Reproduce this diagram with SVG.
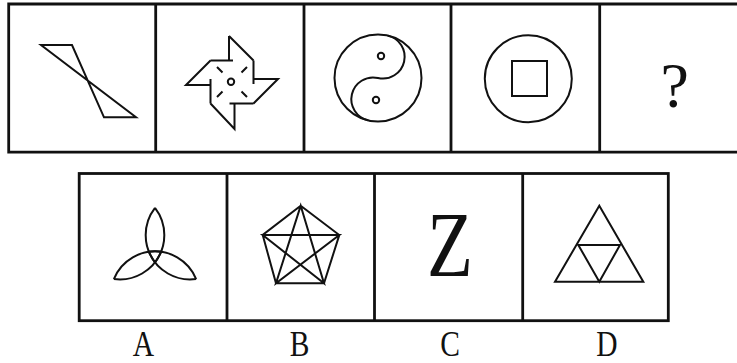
<svg xmlns="http://www.w3.org/2000/svg" width="737" height="363" viewBox="0 0 737 363">
<style>
.frame{fill:none;stroke:#111;stroke-width:2.8}
.fig{fill:none;stroke:#111;stroke-width:2;stroke-linejoin:miter;stroke-linecap:butt}
.lbl{font-family:"Liberation Serif","Times New Roman",serif;fill:#111;text-anchor:middle}
</style>
<rect width="737" height="363" fill="#fff"/>
<g id="top-row">
<path class="frame" d="M748,4 H8.7 V152.2 H748 M155.7,4 V152.2 M304,4 V152.2 M451,4 V152.2 M599.7,4 V152.2"/>
</g>
<g id="bottom-row">
<rect class="frame" x="79.2" y="173.5" width="589.1" height="147.2"/>
<path class="frame" d="M227,173.5 V320.7 M374.5,173.5 V320.7 M522.7,173.5 V320.7"/>
</g>
<g id="fig1">
<path class="fig" d="M41,45 H72 L104,117.3 H136 Z"/>
</g>
<g id="fig2">
<path class="fig" d="M229,36 V60.5 M229,36 L253.5,60.5 M210.5,60.5 H233 M253.5,79 H278 L253.5,103.5 M253.5,60.5 V84 M234.5,103.5 V129 L210.5,103.5 M253.5,103.5 H229.5 M210.5,85 H186 L210.5,60.5 M210.5,103.5 V79"/>
<path class="fig" d="M217,67 L222.5,72.5 M247,67 L241.5,72.5 M247,97 L241.5,91.5 M217,97 L222.5,91.5"/>
<circle class="fig" cx="231" cy="81.7" r="3.2" stroke-width="1.6"/>
</g>
<g id="fig3">
<circle class="fig" cx="378" cy="78" r="43.5"/>
<path class="fig" transform="translate(378,78) rotate(13)" d="M0,-43.5 A21.75,21.75 0 0 1 0,0 A21.75,21.75 0 0 0 0,43.5"/>
<circle class="fig" cx="381" cy="56" r="3.2" stroke-width="1.6"/>
<circle class="fig" cx="376" cy="100" r="3.2" stroke-width="1.6"/>
</g>
<g id="fig4">
<circle class="fig" cx="528.3" cy="78.7" r="43.5"/>
<rect class="fig" x="512" y="61" width="35" height="35"/>
</g>
<g id="fig5">
<text class="lbl" x="674.7" y="107" font-size="64">?</text>
</g>
<g id="optA">
<g transform="translate(155,255.3)">
<path id="lens" class="fig" d="M0,-47.5 A44.5,44.5 0 0 1 0,7 A44.5,44.5 0 0 1 0,-47.5"/>
<path class="fig" transform="rotate(120)" d="M0,-47.5 A44.5,44.5 0 0 1 0,7 A44.5,44.5 0 0 1 0,-47.5"/>
<path class="fig" transform="rotate(240)" d="M0,-47.5 A44.5,44.5 0 0 1 0,7 A44.5,44.5 0 0 1 0,-47.5"/>
</g>
<text class="lbl" transform="translate(143.3,355.5) scale(0.82,1)" font-size="36">A</text>
</g>
<g id="optB">
<path class="fig" d="M300.7,205.7 L339.3,235 L324,283.3 L276,283.3 L262.7,235 Z M300.7,205.7 L324,283.3 L262.7,235 L339.3,235 L276,283.3 Z"/>
<text class="lbl" transform="translate(299.7,355.5) scale(0.82,1)" font-size="36">B</text>
</g>
<g id="optC">
<text class="lbl" transform="translate(450,276) scale(0.8,1)" font-size="94">Z</text>
<text class="lbl" transform="translate(450,355.5) scale(0.82,1)" font-size="36">C</text>
</g>
<g id="optD">
<path class="fig" d="M599.3,205.7 L643.3,281.7 L555,281.7 Z M578.3,245 H620 L599.3,281.7 Z"/>
<text class="lbl" transform="translate(607,355.5) scale(0.82,1)" font-size="36">D</text>
</g>
</svg>
